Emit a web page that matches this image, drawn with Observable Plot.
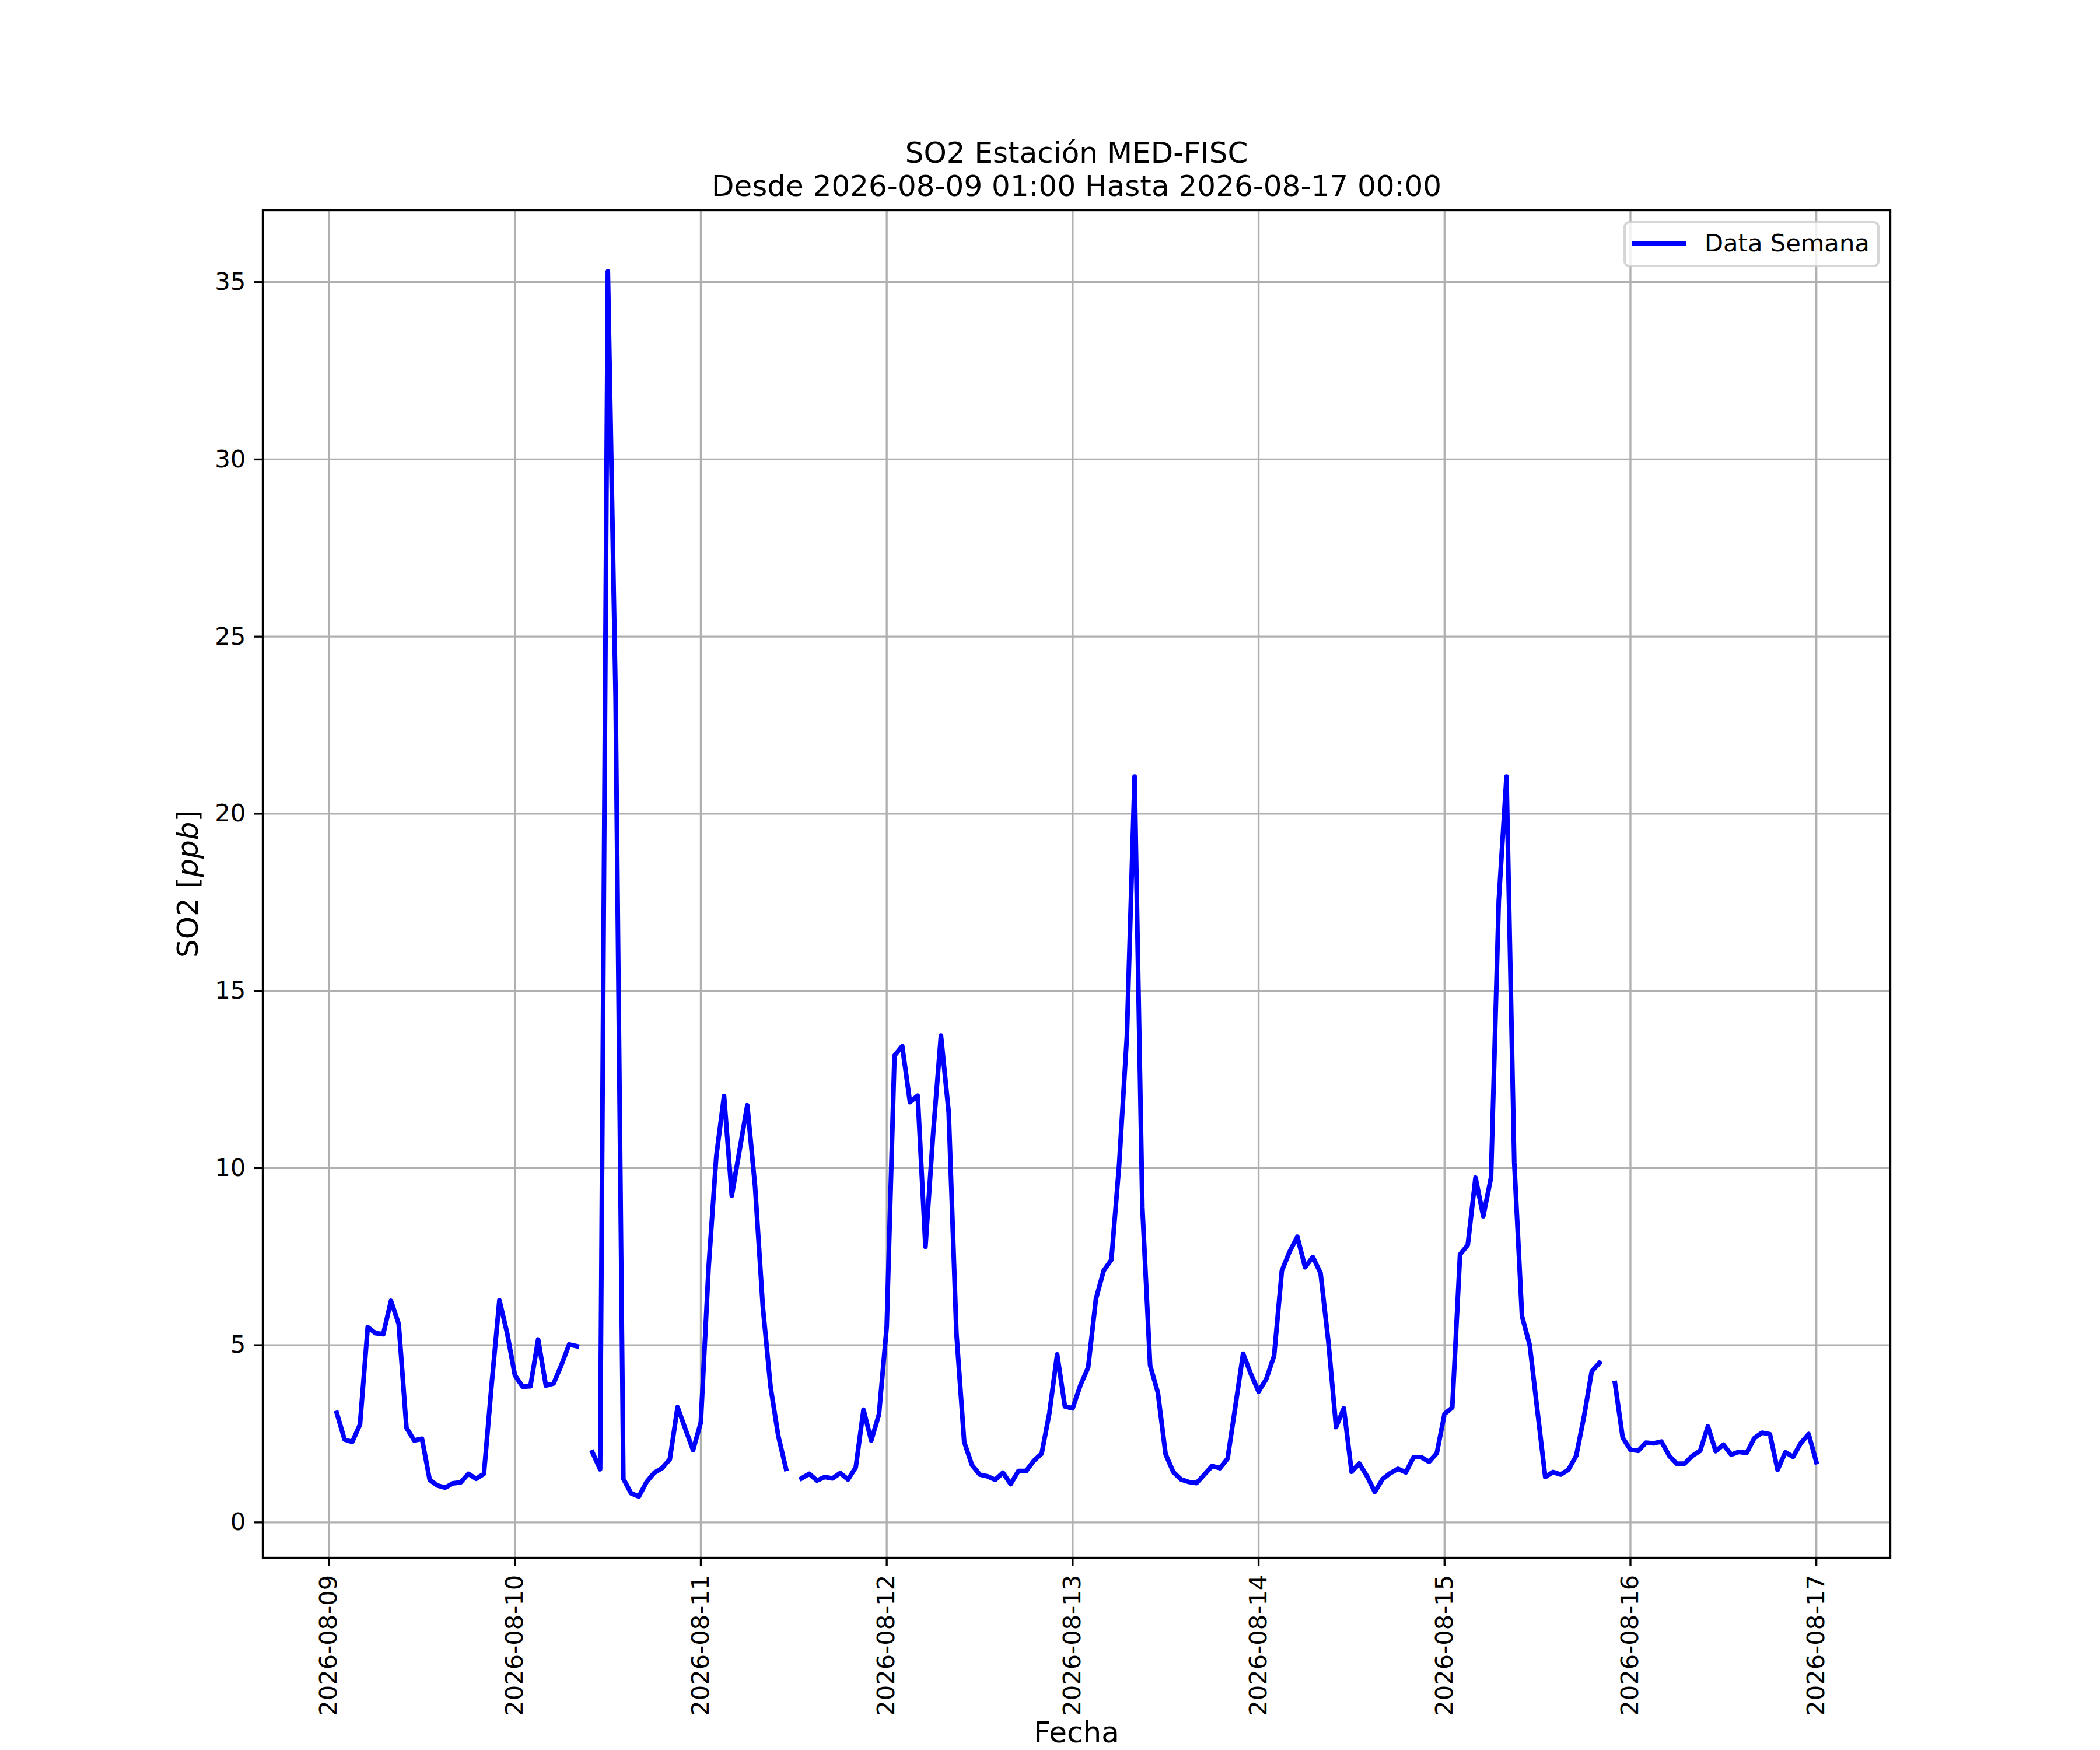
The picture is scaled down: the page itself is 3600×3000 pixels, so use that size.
<!DOCTYPE html>
<html>
<head>
<meta charset="utf-8">
<script src="https://cdn.jsdelivr.net/npm/d3@7"></script>
<script src="https://cdn.jsdelivr.net/npm/@observablehq/plot@0.6"></script>
<style>
  html, body { margin: 0; padding: 0; background: white; }
  svg { display: block; }
</style>
</head>
<body>
<script>
// ---- data ----
const startTime = "2026-08-09T01:00:00Z";   // first hourly reading
const endTime = "2026-08-17T00:00:00Z";     // last hourly reading
const titleLines = ["SO2 Estación MED-FISC", "Desde 2026-08-09 01:00 Hasta 2026-08-17 00:00"];
const seriesName = "Data Semana";
const xLabel = "Fecha";
const xTickLabels = ["2026-08-09", "2026-08-10", "2026-08-11", "2026-08-12", "2026-08-13",
                     "2026-08-14", "2026-08-15", "2026-08-16", "2026-08-17"];
const yTicks = [0, 5, 10, 15, 20, 25, 30, 35];

// hourly SO2 values (ppb), null = missing reading
const so2_0809 = [3.09, 2.34, 2.27, 2.76, 5.51, 5.34, 5.31, 6.25, 5.60, 2.67, 2.31, 2.36,
                  1.20, 1.04, 0.98, 1.10, 1.13, 1.37, 1.23, 1.37, 3.90, 6.27, 5.34]; // 01..23h
const so2_0810 = [4.15, 3.83, 3.84, 5.16, 3.86, 3.92, 4.44, 5.02, 4.97, null, 1.98, 1.50,
                  35.3, 23.3, 1.23, 0.82, 0.73, 1.14, 1.40, 1.53, 1.78, 3.25, 2.64, 2.04];
const so2_0811 = [2.82, 7.17, 10.34, 12.03, 9.22, 10.5, 11.77, 9.49, 6.10, 3.83, 2.44, 1.51,
                  null, 1.24, 1.37, 1.18, 1.28, 1.24, 1.39, 1.21, 1.55, 3.18, 2.31, 3.05];
const so2_0812 = [5.53, 13.17, 13.44, 11.86, 12.04, 7.78, 11.0, 13.74, 11.57, 5.33, 2.27, 1.62,
                  1.35, 1.30, 1.20, 1.40, 1.08, 1.45, 1.45, 1.74, 1.94, 3.09, 4.74, 3.27];
const so2_0813 = [3.22, 3.87, 4.37, 6.30, 7.10, 7.41, 10.09, 13.71, 21.05, 8.88, 4.43, 3.66,
                  1.92, 1.42, 1.21, 1.14, 1.11, 1.35, 1.59, 1.53, 1.80, 3.27, 4.76, 4.19];
const so2_0814 = [3.69, 4.05, 4.70, 7.10, 7.64, 8.06, 7.20, 7.49, 7.03, 5.11, 2.69, 3.22,
                  1.43, 1.66, 1.30, 0.86, 1.22, 1.39, 1.51, 1.41, 1.84, 1.84, 1.71, 1.95];
const so2_0815 = [3.06, 3.24, 7.56, 7.83, 9.73, 8.64, 9.73, 17.54, 21.05, 10.16, 5.82, 5.00,
                  3.13, 1.28, 1.42, 1.35, 1.49, 1.88, 2.98, 4.26, 4.50, null, 3.93, 2.39];
const so2_0816 = [2.05, 2.02, 2.25, 2.23, 2.28, 1.88, 1.65, 1.66, 1.88, 2.02, 2.71, 2.01,
                  2.19, 1.91, 1.99, 1.96, 2.38, 2.53, 2.49, 1.48, 1.98, 1.85, 2.24, 2.49];
const so2_0817 = [1.70]; // 00h

const so2 = [].concat(so2_0809, so2_0810, so2_0811, so2_0812, so2_0813,
                      so2_0814, so2_0815, so2_0816, so2_0817);

// ---- table for Plot ----
const t0 = new Date(startTime).getTime();
const t1 = new Date(endTime).getTime();
const HOUR = 3600e3;
const data = so2.map((v, i) => ({date: new Date(t0 + i * HOUR), value: v}));
const dayTicks = xTickLabels.map(s => new Date(s + "T00:00:00Z"));

// matplotlib-style autoscale with 5% margins
const xSpan = t1 - t0;
const xDomain = [new Date(t0 - 0.05 * xSpan), new Date(t1 + 0.05 * xSpan)];
const vals = so2.filter(v => v != null);
const vMin = d3.min(vals), vMax = d3.max(vals);
const ySpan = vMax - vMin;
const yDomain = [vMin - 0.05 * ySpan, vMax + 0.05 * ySpan];

// ---- layout (figure 3600x3000, matplotlib default subplot params) ----
const W = 3600, H = 3000;
const mL = 450, mR = 360, mT = 360, mB = 330;
const FONT = "DejaVu Sans";
const fs = 41.67, fsL = 50;
const lw = 3.33;

const fmt = d3.utcFormat("%Y-%m-%d");

const chart = Plot.plot({
  width: W,
  height: H,
  marginLeft: mL,
  marginRight: mR,
  marginTop: mT,
  marginBottom: mB,
  style: {fontFamily: FONT, fontSize: fs + "px", background: "white", color: "black"},
  x: {type: "utc", domain: xDomain, label: null},
  y: {domain: yDomain, label: null},
  marks: [
    Plot.gridX(dayTicks, {stroke: "#b0b0b0", strokeOpacity: 1, strokeWidth: lw}),
    Plot.gridY(yTicks, {stroke: "#b0b0b0", strokeOpacity: 1, strokeWidth: lw}),
    Plot.line(data, {x: "date", y: "value", stroke: "#0000ff", strokeWidth: 8,
                     strokeLinecap: "square", strokeLinejoin: "round"}),
    Plot.frame({stroke: "black", strokeWidth: lw}),
    Plot.axisX(dayTicks, {tickSize: 14.6, tickPadding: 14.6, tickRotate: -90,
                          tickFormat: fmt, fontSize: fs, strokeWidth: lw, label: null}),
    Plot.axisY(yTicks, {tickSize: 14.6, tickPadding: 14.6, fontSize: fs, tickFormat: d3.format("d"),
                        strokeWidth: lw, label: null}),
    Plot.text([titleLines[0]], {frameAnchor: "top", dy: -82, lineAnchor: "bottom",
                                textAnchor: "middle", fontSize: fsL, fill: "black"}),
    Plot.text([titleLines[1]], {frameAnchor: "top", dy: -25, lineAnchor: "bottom",
                                textAnchor: "middle", fontSize: fsL, fill: "black"}),
    Plot.text([xLabel], {frameAnchor: "bottom", dy: 2986 - (H - mB), lineAnchor: "bottom",
                         textAnchor: "middle", fontSize: fsL, fill: "black"}),
    Plot.text(["SO2 [ppb]"], {frameAnchor: "left", dx: 338 - mL, rotate: -90, lineAnchor: "bottom",
                              textAnchor: "middle", fontSize: fsL, fill: "black", className: "ylab"})
  ]
});

const svg = d3.select(chart);

// italic "ppb" as in the mathtext label
svg.selectAll(".ylab text").each(function() {
  const t = d3.select(this);
  t.text(null);
  t.append("tspan").text("SO2 [");
  t.append("tspan").attr("font-style", "italic").text("ppb");
  t.append("tspan").text("]");
});

// legend (upper right)
const lg = svg.append("g").attr("font-family", FONT).attr("text-anchor", "start");
lg.append("rect")
  .attr("x", 2785).attr("y", 381).attr("width", 435).attr("height", 75)
  .attr("rx", 8).attr("ry", 8)
  .attr("fill", "white").attr("fill-opacity", 0.8)
  .attr("stroke", "#cccccc").attr("stroke-opacity", 0.8).attr("stroke-width", 4.17);
lg.append("line")
  .attr("x1", 2798).attr("x2", 2890).attr("y1", 417).attr("y2", 417)
  .attr("stroke", "#0000ff").attr("stroke-width", 8);
lg.append("text")
  .attr("x", 2922).attr("y", 431).attr("font-size", fs).attr("fill", "black")
  .attr("text-anchor", "start")
  .text(seriesName);

document.body.appendChild(chart);
</script>
</body>
</html>
